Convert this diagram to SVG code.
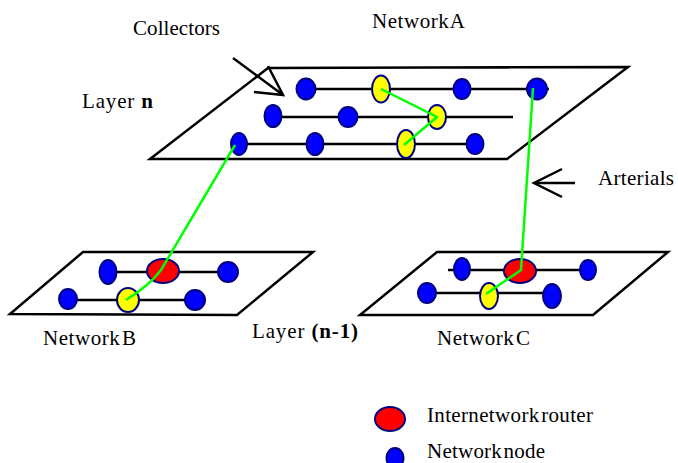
<svg xmlns="http://www.w3.org/2000/svg" width="678" height="463" viewBox="0 0 678 463">
<defs>
<style>
.plane{fill:#fff;stroke:#000;stroke-width:2.5;stroke-linejoin:miter}
.row{stroke:#000;stroke-width:2.5;fill:none}
.node{fill:#0000ff;stroke:#000080;stroke-width:2}
.col{fill:#ffff00;stroke:#000080;stroke-width:2}
.rtr{fill:#ff0000;stroke:#000080;stroke-width:2}
.link{stroke:#00ff00;stroke-width:2.5;fill:none;stroke-linejoin:round}
.arr{stroke:#000;stroke-width:2.5;fill:none}
text{font-family:"Liberation Serif","Times New Roman",serif;font-size:21px;fill:#000}
.b{font-weight:bold}
</style>
</defs>
<rect width="678" height="463" fill="#fff"/>
<g id="networkA">
<polygon class="plane" points="268,68 628,67 507,159 150,159"/>
<line class="row" x1="303" y1="89" x2="549" y2="89"/>
<line class="row" x1="272" y1="117" x2="513" y2="117"/>
<line class="row" x1="238" y1="144" x2="473" y2="144"/>
<ellipse class="node" cx="306" cy="89" rx="9.5" ry="10.5"/>
<ellipse class="col" cx="381" cy="89" rx="9" ry="13.5"/>
<ellipse class="node" cx="462" cy="89" rx="8.5" ry="10"/>
<ellipse class="node" cx="537" cy="89" rx="10" ry="10.5"/>
<ellipse class="node" cx="273" cy="116" rx="8.5" ry="11"/>
<ellipse class="node" cx="348" cy="117" rx="9.5" ry="10"/>
<ellipse class="col" cx="437" cy="117" rx="9" ry="12"/>
<ellipse class="node" cx="239" cy="144" rx="8" ry="11"/>
<ellipse class="node" cx="315" cy="144" rx="8.5" ry="11"/>
<ellipse class="col" cx="406" cy="144" rx="9" ry="14"/>
<ellipse class="node" cx="475" cy="144" rx="8.5" ry="10"/>
</g>
<g id="networkB">
<polygon class="plane" points="83,252 313,252 237,315 10,314"/>
<line class="row" x1="110" y1="272" x2="228" y2="272"/>
<line class="row" x1="68" y1="300" x2="196" y2="300"/>
<ellipse class="node" cx="108" cy="272" rx="8.5" ry="12"/>
<ellipse class="rtr" cx="163" cy="271" rx="16" ry="12"/>
<ellipse class="node" cx="228" cy="272" rx="10" ry="10"/>
<ellipse class="node" cx="68" cy="299" rx="9" ry="10"/>
<ellipse class="col" cx="128" cy="300" rx="11" ry="12"/>
<ellipse class="node" cx="195" cy="300" rx="10" ry="10"/>
</g>
<g id="networkC">
<polygon class="plane" points="437,252 668,252 593,315 360,315"/>
<line class="row" x1="448" y1="270" x2="588" y2="270"/>
<line class="row" x1="417" y1="293" x2="552" y2="293"/>
<ellipse class="node" cx="462" cy="269" rx="8" ry="11"/>
<ellipse class="rtr" cx="520" cy="271" rx="16" ry="12"/>
<ellipse class="node" cx="588" cy="270" rx="8" ry="10"/>
<ellipse class="node" cx="427" cy="293" rx="9" ry="10"/>
<ellipse class="col" cx="489" cy="296" rx="9" ry="13"/>
<ellipse class="node" cx="552" cy="296" rx="9" ry="12"/>
</g>
<g id="connectors">
<polyline class="link" points="381,89 437,117 404,145"/>
<path class="link" d="M235,145 L161,270 Q150,285 126,300"/>
<polyline class="link" points="533,88 521,270 486,294"/>
<g id="arrow-collectors">
<line class="arr" x1="233" y1="58" x2="283" y2="95"/>
<polyline class="arr" points="268,66 283,95 254,92"/>
</g>
<g id="arrow-arterials">
<line class="arr" x1="534" y1="183" x2="575" y2="183"/>
<polyline class="arr" points="562,169 534,183 562,197"/>
</g>
</g>
<g id="labels">
<text x="133" y="35" textLength="87" lengthAdjust="spacing">Collectors</text>
<text x="372" y="28" textLength="93" lengthAdjust="spacing" word-spacing="-4">Network A</text>
<text x="82" y="108" textLength="71" lengthAdjust="spacing">Layer <tspan class="b">n</tspan></text>
<text x="598" y="185" textLength="76" lengthAdjust="spacing">Arterials</text>
<text x="43" y="345" textLength="93" lengthAdjust="spacing" word-spacing="-4">Network B</text>
<text x="252" y="338" textLength="106" lengthAdjust="spacing">Layer <tspan class="b">(n-1)</tspan></text>
<text x="437" y="345" textLength="93" lengthAdjust="spacing" word-spacing="-4">Network C</text>
</g>
<g id="legend">
<ellipse class="rtr" cx="390" cy="419" rx="15" ry="12"/>
<text x="427" y="422" textLength="166" lengthAdjust="spacing" word-spacing="-4">Internetwork router</text>
<ellipse class="node" cx="395" cy="458" rx="8.5" ry="10"/>
<text x="427" y="458" textLength="118" lengthAdjust="spacing" word-spacing="-4">Network node</text>
</g>
</svg>
